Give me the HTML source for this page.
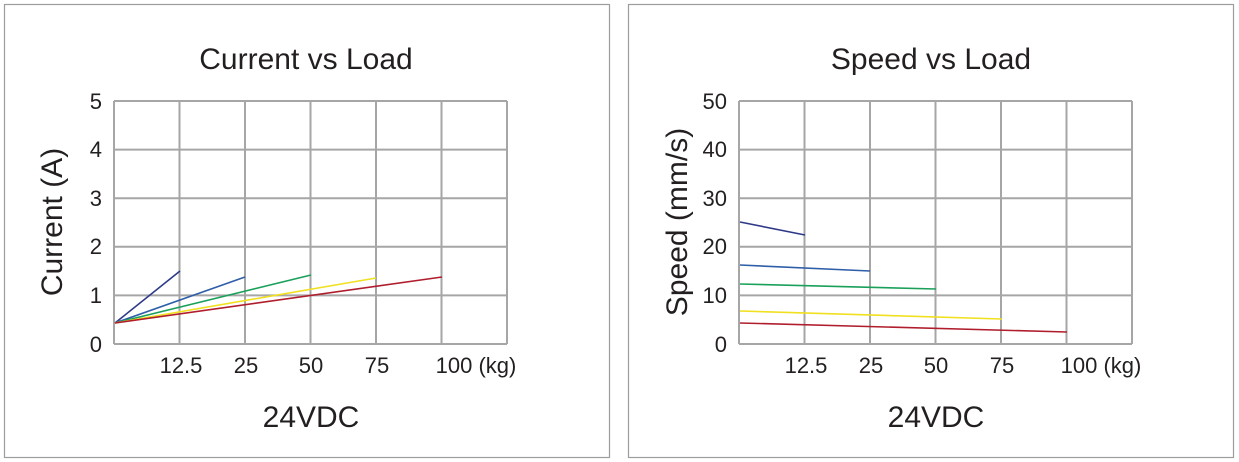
<!DOCTYPE html>
<html><head><style>
body{margin:0;background:#fff;width:1239px;height:462px;overflow:hidden}
svg{position:absolute;left:0;top:0}
text{font-family:"Liberation Sans",sans-serif;fill:#231f20}
</style></head><body>
<svg width="1239" height="462" viewBox="0 0 1239 462">
<rect x="4.5" y="4.5" width="605" height="453" fill="none" stroke="#9d9d9d" stroke-width="1.2"/>
<rect x="628.5" y="4.5" width="605" height="453" fill="none" stroke="#9d9d9d" stroke-width="1.2"/>
<g stroke="#a6a6a6" stroke-width="2" fill="none">
<path d="M114 101V344M179.5 101V344M245 101V344M310.5 101V344M376 101V344M441.5 101V344M507 101V344"/>
<path d="M114 101H507M114 149.6H507M114 198.2H507M114 246.8H507M114 295.4H507M114 344H507"/>
<path d="M739 101V344M804.5 101V344M870 101V344M935.5 101V344M1001 101V344M1066.5 101V344M1132 101V344"/>
<path d="M739 101H1132M739 149.6H1132M739 198.2H1132M739 246.8H1132M739 295.4H1132M739 344H1132"/>
</g>
<g stroke-width="1.6" fill="none">
<line x1="115" y1="323" x2="180" y2="271" stroke="#2e3a87"/>
<line x1="115" y1="323" x2="245" y2="277" stroke="#2f5ea8"/>
<line x1="115" y1="323" x2="311" y2="275" stroke="#1aa05a"/>
<line x1="115" y1="323" x2="376" y2="278" stroke="#f0e020"/>
<line x1="115" y1="323" x2="442" y2="277" stroke="#b01e2d"/>
<line x1="740" y1="222" x2="805" y2="235" stroke="#2e3a87"/>
<line x1="740" y1="265" x2="870" y2="271" stroke="#2f5ea8"/>
<line x1="740" y1="284" x2="936" y2="289" stroke="#1aa05a"/>
<line x1="740" y1="311" x2="1002" y2="319" stroke="#f0e020"/>
<line x1="740" y1="323" x2="1067" y2="332" stroke="#b01e2d"/>
</g>
<g font-size="30" text-anchor="middle">
<text x="306" y="69">Current vs Load</text>
<text x="931" y="69">Speed vs Load</text>
<text x="311" y="427">24VDC</text>
<text x="936" y="427">24VDC</text>
<text transform="translate(62,222) rotate(-90)">Current (A)</text>
<text transform="translate(687,222) rotate(-90)">Speed (mm/s)</text>
</g>
<g font-size="22" text-anchor="end">
<text x="102" y="109">5</text><text x="102" y="157">4</text><text x="102" y="206">3</text>
<text x="102" y="254">2</text><text x="102" y="303">1</text><text x="102" y="352">0</text>
<text x="727" y="109">50</text><text x="727" y="157">40</text><text x="727" y="206">30</text>
<text x="727" y="254">20</text><text x="727" y="303">10</text><text x="727" y="352">0</text>
</g>
<g font-size="22" text-anchor="middle">
<text x="181" y="373">12.5</text><text x="246" y="373">25</text><text x="311" y="373">50</text>
<text x="377" y="373">75</text><text x="476" y="373">100 (kg)</text>
<text x="806" y="373">12.5</text><text x="871" y="373">25</text><text x="936" y="373">50</text>
<text x="1002" y="373">75</text><text x="1101" y="373">100 (kg)</text>
</g>
</svg>
</body></html>
